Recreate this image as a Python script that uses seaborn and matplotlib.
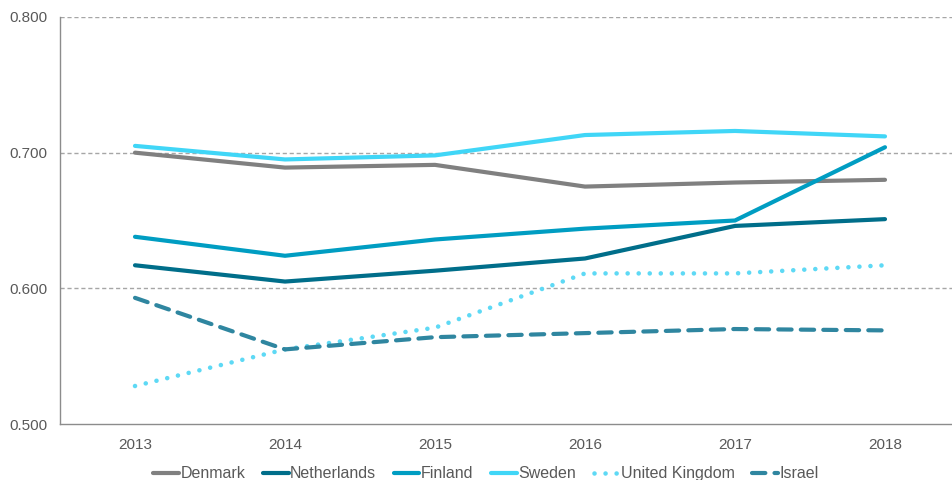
import pandas as pd
import matplotlib.pyplot as plt
import seaborn as sns

# data
years = ["2013", "2014", "2015", "2016", "2017", "2018"]
denmark = [0.700, 0.689, 0.691, 0.675, 0.678, 0.680]
netherlands = [0.617, 0.605, 0.613, 0.622, 0.646, 0.651]
finland = [0.638, 0.624, 0.636, 0.644, 0.650, 0.704]
sweden = [0.705, 0.695, 0.698, 0.713, 0.716, 0.712]
united_kingdom = [0.528, 0.555, 0.571, 0.611, 0.611, 0.617]
israel = [0.593, 0.555, 0.564, 0.567, 0.570, 0.569]

series = {
    "Denmark": denmark,
    "Netherlands": netherlands,
    "Finland": finland,
    "Sweden": sweden,
    "United Kingdom": united_kingdom,
    "Israel": israel,
}
colors = {
    "Denmark": "#808080",
    "Netherlands": "#006E8A",
    "Finland": "#009DC2",
    "Sweden": "#40D6F7",
    "United Kingdom": "#5ED9F5",
    "Israel": "#2F86A0",
}
styles = {
    "Denmark": "-",
    "Netherlands": "-",
    "Finland": "-",
    "Sweden": "-",
    "United Kingdom": (0, (0.01, 2.4)),
    "Israel": (0, (3.2, 2.2)),
}

rows = []
for name, vals in series.items():
    for i, v in enumerate(vals):
        rows.append({"country": name, "pos": i, "value": v})
df = pd.DataFrame(rows)

sns.set_style("white")
plt.rcParams["font.family"] = ["Liberation Sans", "DejaVu Sans"]

fig = plt.figure(figsize=(9.53, 4.8), dpi=100)
ax = fig.add_axes([60 / 953, 1 - 424 / 480, 900 / 953, 407 / 480])

for name in series:
    sub = df[df["country"] == name]
    lw = 3.3 if name == "United Kingdom" else 3
    sns.lineplot(data=sub, x="pos", y="value", ax=ax, color=colors[name],
                 linewidth=lw, linestyle=styles[name], label=name,
                 solid_capstyle="round", dash_capstyle="round")

ax.set_xlim(-0.5, 5.5)
ax.set_ylim(0.5, 0.8)
ax.set_yticks([0.5, 0.6, 0.7, 0.8])
ax.set_yticklabels([f"{t:.3f}" for t in [0.5, 0.6, 0.7, 0.8]])
ax.set_xticks(range(len(years)))
ax.set_xticklabels(years)
ax.set_xticks([i - 0.5 for i in range(len(years) + 1)], minor=True)
ax.tick_params(axis="x", which="major", length=0, pad=10, labelsize=11, labelcolor="#595959")
ax.tick_params(axis="x", which="minor", length=5, color="#8c8c8c", width=1, direction="out")
ax.tick_params(axis="y", length=5, color="#8c8c8c", width=1, direction="out",
               labelsize=11, labelcolor="#595959", pad=4)
ax.set_xlabel("")
ax.set_ylabel("")

for y in [0.6, 0.7, 0.8]:
    ax.axhline(y, color="#a6a6a6", linewidth=1, linestyle=(0, (3, 2)), zorder=0)

for s in ["top", "right"]:
    ax.spines[s].set_visible(False)
for s in ["left", "bottom"]:
    ax.spines[s].set_color("#8c8c8c")
    ax.spines[s].set_linewidth(1)

handles, labels = ax.get_legend_handles_labels()
ax.get_legend().remove()
fig.legend(handles, labels, loc="center", bbox_to_anchor=(486 / 953, 0.013), ncol=6,
           frameon=False, handlelength=1.6, handletextpad=0.1, columnspacing=1.1,
           fontsize=11.5, labelcolor="#595959")

plt.savefig("out.png", dpi=100)
plt.close()
